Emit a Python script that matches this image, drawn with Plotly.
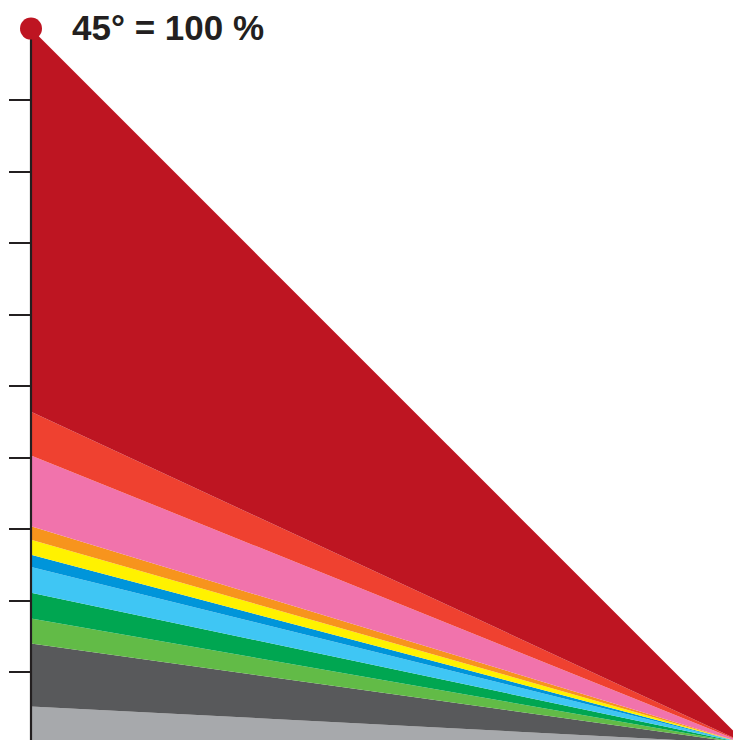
import plotly.graph_objects as go

# Band shares in percent, from the bottom band up (sum = 100 %)
band_names = ["light gray", "dark gray", "light green", "green", "light blue",
              "blue", "yellow", "orange", "pink", "orange red", "red"]
band_shares = [5.2, 8.8, 3.5, 3.6, 3.6, 1.7, 2.1, 1.9, 9.9, 6.1, 53.6]
band_colors = ["#a7a9ac", "#58595b", "#62bb47", "#00a651", "#3fc6f4",
               "#0095da", "#fff200", "#f7941d", "#f173ac", "#ef4130", "#be1522"]
tick_values = [1, 2, 3, 4, 5, 6, 7, 8, 9]
title_text = "45° = 100 %"
full_scale = 10  # 100 % -> 45° line

fig = go.Figure()

lower = 0.0
for name, share, color in zip(band_names, band_shares, band_colors):
    upper = lower + share
    lo = lower / 100 * full_scale
    hi = upper / 100 * full_scale
    fig.add_trace(go.Scatter(
        x=[0, 0, full_scale, 0], y=[lo, hi, 0, lo],
        mode="lines", fill="toself", fillcolor=color,
        line=dict(width=0, color=color), name=name,
        hoverinfo="name", showlegend=False))
    lower = upper

# vertical axis line
fig.add_trace(go.Scatter(x=[0, 0], y=[-1, full_scale], mode="lines",
                         line=dict(color="#231f20", width=2.2),
                         hoverinfo="skip", showlegend=False))
# top dot
fig.add_trace(go.Scatter(x=[0], y=[full_scale], mode="markers",
                         marker=dict(size=22, color="#be1522"),
                         hoverinfo="skip", showlegend=False))

# page body has an 8px margin, so the figure starts at (8, 8) in the window
W, H = 733, 732
x0_px, top_px, unit_px = 23.0, 20.6, 71.5
zero_px = top_px + full_scale * unit_px
xr = [-x0_px / unit_px, (W - x0_px) / unit_px]
yr = [(zero_px - H) / unit_px, zero_px / unit_px]

fig.add_annotation(x=0.55, y=full_scale + 0.02, xref="x", yref="y",
                   text="<b>" + title_text + "</b>", showarrow=False,
                   xanchor="left", yanchor="middle",
                   font=dict(family="Liberation Sans, Arial", size=35, color="#231f20"))

fig.update_layout(
    width=W, height=H, margin=dict(l=0, r=0, t=0, b=0),
    paper_bgcolor="white", plot_bgcolor="white",
    xaxis=dict(range=xr, visible=False, fixedrange=True),
    yaxis=dict(range=yr, showgrid=False, zeroline=False, showline=False,
               anchor="free", position=x0_px / W - 0.0015,
               ticks="outside", ticklen=21, tickwidth=2.2, tickcolor="#231f20",
               tickvals=tick_values, showticklabels=False, fixedrange=True),
)

fig.write_html("out.html")
